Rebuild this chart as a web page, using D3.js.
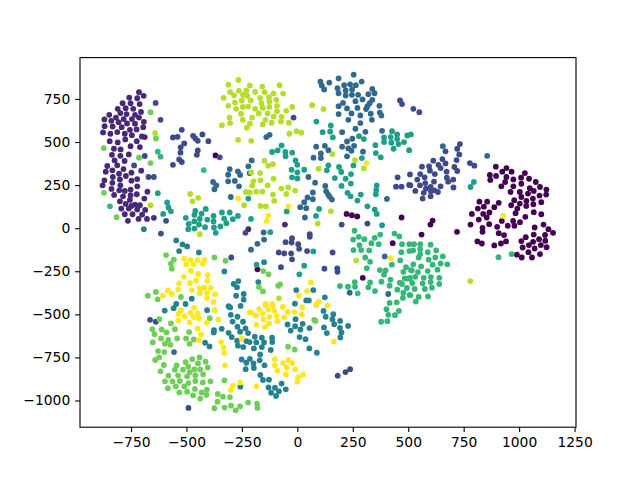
<!DOCTYPE html>
<html><head><meta charset="utf-8">
<script src="https://cdn.jsdelivr.net/npm/d3@7"></script>
<style>html,body{margin:0;padding:0;background:#fff}svg{display:block}</style>
</head><body><svg id="c" width="640" height="480"></svg>
<script>
const xTicks=[-750,-500,-250,0,250,500,750,1000,1250];
const yTicks=[-1000,-750,-500,-250,0,250,500,750];
const classColors=["#440154","#482878","#3e4a89","#31688e","#26828e","#1f9e89","#35b779","#6ece58","#b5de2b","#fde725"];
const class0=[[-369,422],[895,357],[943,349],[924,328],[966,328],[1026,320],[868,309],[896,303],[943,297],[1009,293],[1045,287],[974,283],[870,280],[1075,268],[937,268],[1010,258],[920,243],[974,243],[1048,232],[1094,239],[1123,224],[961,210],[1003,210],[1066,216],[1040,201],[1010,181],[1092,189],[1122,195],[1062,172],[978,162],[1033,158],[1003,143],[964,133],[1032,129],[1064,139],[1100,151],[992,114],[1066,93],[1100,81],[984,87],[1028,66],[973,42],[1004,35],[949,14],[979,14],[922,42],[901,8],[821,154],[856,154],[908,147],[814,114],[841,125],[888,122],[787,83],[838,83],[866,91],[854,62],[818,50],[781,21],[865,23],[835,2],[835,-21],[908,-29],[932,-40],[941,-77],[918,-89],[888,-100],[812,-77],[832,-89],[720,-21],[610,44],[600,21],[560,-37],[1070,4],[1110,21],[1132,-6],[1153,-27],[1066,-37],[1117,-39],[1030,-52],[1090,-64],[1010,-75],[1063,-79],[1118,-73],[1098,-98],[1044,-98],[1016,-112],[1070,-118],[1124,-110],[1042,-139],[1094,-150],[990,-154],[1012,-170],[1058,-170],[222,83],[246,75],[270,68],[470,62],[430,-87],[295,-288],[-180,-239]];
const class1=[[-714,789],[-693,768],[-758,758],[-722,754],[-788,725],[-752,725],[-711,720],[-810,693],[-774,696],[-740,693],[-705,675],[-848,658],[-798,668],[-770,662],[-732,658],[-870,631],[-839,623],[-818,642],[-783,633],[-746,633],[-714,642],[-806,615],[-768,608],[-732,606],[-692,617],[-869,592],[-833,590],[-792,586],[-695,586],[-755,571],[-725,573],[-876,556],[-843,548],[-812,558],[-778,548],[-746,540],[-701,532],[-688,529],[-846,505],[-810,498],[-776,515],[-724,505],[-752,476],[-710,471],[-827,461],[-797,457],[-836,426],[-798,420],[-760,428],[-824,393],[-779,390],[-857,361],[-812,365],[-834,336],[-784,343],[-864,328],[-804,316],[-748,322],[-704,334],[-832,297],[-773,303],[-870,278],[-800,283],[-748,276],[-722,285],[-834,263],[-798,249],[-878,249],[-722,243],[-838,228],[-803,220],[-778,216],[-752,224],[-676,212],[-724,197],[-826,193],[-786,185],[-752,191],[-690,172],[-800,156],[-755,164],[-774,141],[-732,137],[-710,133],[-748,129],[-794,114],[-760,114],[-722,108],[-686,106],[-700,79],[-778,81],[-743,81],[-716,54],[-678,54],[-647,60],[-764,43],[-221,-6],[-56,21]];
const class2=[[-639,727],[-617,629],[-521,571],[-561,527],[-540,530],[-470,536],[-460,521],[-449,507],[-428,544],[-401,505],[-510,492],[-526,469],[-527,438],[-449,451],[-453,426],[-533,399],[-521,384],[-561,368],[-688,419],[-736,364],[-671,297],[-647,297],[-350,411],[-17,642],[463,741],[472,720],[452,295],[508,312],[523,693],[550,673],[733,488],[721,461],[730,428],[668,446],[718,395],[654,401],[613,392],[668,376],[636,368],[646,349],[594,359],[562,357],[598,334],[708,355],[721,332],[778,378],[798,363],[620,314],[673,328],[554,314],[574,295],[674,293],[541,282],[616,270],[703,282],[680,270],[577,262],[510,249],[553,249],[646,243],[704,236],[532,216],[601,239],[580,230],[602,214],[634,210],[570,205],[565,172],[601,185],[618,220],[-53,-81],[-24,-58],[-26,-83],[4,-93],[8,-120],[56,-35],[56,-50],[200,21],[316,27],[-84,-141],[-59,-147],[-28,-147],[-24,-181],[44,-133],[159,-141],[-74,-226],[122,-235],[180,-233],[181,-253],[445,241],[470,241],[504,251],[-592,43],[-615,-31],[-298,-170],[-234,-27],[-664,-532],[-638,-543],[-491,-1043],[238,-818],[217,-835],[182,-856]];
const class3=[[-305,343],[-268,330],[-258,309],[-312,310],[-140,529],[-125,542],[254,891],[104,851],[144,845],[186,870],[110,828],[121,805],[211,830],[238,835],[264,830],[290,851],[181,812],[218,799],[247,805],[186,783],[218,770],[246,774],[274,774],[338,808],[320,778],[348,783],[294,747],[262,737],[206,727],[186,708],[224,695],[271,698],[338,745],[326,725],[316,708],[370,710],[310,691],[244,666],[186,662],[284,654],[331,664],[372,671],[230,629],[336,629],[379,654],[284,610],[202,557],[262,577],[307,559],[382,565],[248,519],[224,503],[202,473],[256,478],[230,463],[244,449],[296,444],[224,417],[85,473],[124,478],[140,453],[106,434],[106,407],[73,409],[-206,393],[-221,359],[-215,320],[50,297],[656,476],[856,420],[-380,268],[-365,249],[-374,226],[-300,181],[-263,243],[-312,272],[-282,274],[80,264],[70,207],[46,178],[70,168],[31,151],[13,122],[40,116],[34,62],[126,245],[130,214],[139,195],[146,182],[156,166],[404,170],[-152,-25],[-150,-66],[-180,-91],[-209,-125],[236,-374],[394,-164],[410,-382],[-556,-719]];
const class4=[[-692,-6],[-546,-71],[-518,-94],[-497,-106],[-533,-133],[-444,-141],[-329,-251],[-287,-324],[-266,-307],[-272,-343],[-276,-392],[-242,-382],[-242,-415],[-476,-409],[-546,-440],[-504,-440],[-150,-197],[-176,-313],[-5,-359],[72,-359],[40,-419],[52,-419],[124,-401],[-11,-438],[-558,-464],[-598,-478],[-407,-476],[-310,-453],[-303,-460],[-256,-451],[-300,-503],[-270,-514],[-292,-542],[-245,-543],[-270,-572],[-234,-582],[-376,-592],[-377,-605],[-341,-584],[-310,-607],[-258,-601],[-222,-609],[-296,-632],[-272,-653],[-230,-655],[-416,-665],[-396,-686],[-268,-682],[-244,-690],[-251,-762],[-230,-781],[-233,-818],[-257,-920],[118,-480],[162,-499],[128,-514],[158,-528],[193,-538],[-8,-528],[-44,-559],[-10,-569],[24,-555],[166,-557],[229,-567],[120,-576],[192,-578],[-30,-594],[14,-588],[55,-580],[199,-605],[133,-609],[194,-634],[10,-632],[37,-644],[54,-698],[88,-723],[-192,-630],[-160,-636],[-114,-636],[-113,-661],[-215,-661],[-185,-663],[-150,-663],[-196,-698],[-160,-690],[-120,-707],[-168,-733],[-214,-758],[-170,-767],[-198,-785],[-148,-796],[-196,-812],[-167,-852],[-155,-881],[-128,-879],[-71,-902],[-130,-924],[-101,-926],[-52,-935],[-83,-947],[-118,-955],[-96,-974]];
const class5=[[86,619],[151,596],[114,557],[148,561],[160,527],[-114,442],[-89,451],[-71,480],[-54,442],[-23,438],[-53,417],[-8,393],[0,368],[-26,339],[0,324],[31,339],[-24,295],[0,289],[140,365],[133,336],[188,355],[198,326],[169,291],[218,287],[242,314],[253,364],[291,407],[278,534],[300,517],[352,482],[354,436],[376,411],[391,527],[391,500],[427,563],[421,529],[424,496],[450,544],[450,517],[456,488],[434,461],[481,500],[504,453],[496,538],[512,544],[796,268],[781,239],[199,245],[241,259],[358,249],[356,222],[354,197],[226,205],[240,185],[286,195],[271,160],[316,127],[349,108],[358,83],[382,17],[98,112],[84,71],[-48,97],[-209,54],[-122,-23],[-221,172],[72,-135],[31,-218],[9,-268],[-184,-212],[-629,203],[-587,149],[-581,120],[-570,98],[-605,83],[-460,100],[-413,112],[-464,77],[-432,85],[-503,60],[-378,71],[-406,50],[-440,54],[-465,39],[-490,25],[-378,39],[-443,21],[-416,6],[-464,-2],[-492,-6],[-376,4],[-368,-27],[-347,10],[-320,29],[-330,56],[-340,91],[-305,91],[-291,52],[-268,71]];
const class6=[[-629,444],[-617,415],[-422,337],[-845,127],[907,-168],[966,-150],[526,-93],[554,-93],[601,-96],[554,-122],[522,-129],[588,-139],[626,-129],[554,-150],[547,-170],[622,-170],[656,-164],[592,-183],[646,-205],[676,-210],[523,-210],[610,-212],[558,-222],[632,-241],[516,-245],[544,-255],[588,-249],[532,-282],[508,-289],[570,-288],[602,-284],[640,-288],[601,-313],[565,-320],[640,-324],[518,-318],[607,-345],[529,-353],[575,-353],[510,-388],[589,-396],[547,-399],[534,-426],[258,-15],[277,-50],[252,-66],[302,-64],[349,-56],[374,-37],[334,-87],[367,-93],[280,-98],[253,-127],[288,-127],[324,-129],[306,-170],[328,-195],[313,-232],[438,-31],[460,-48],[472,-93],[505,-93],[469,-139],[505,-133],[464,-187],[426,-212],[490,-226],[512,-243],[372,-243],[398,-245],[391,-270],[420,-299],[379,-311],[462,-316],[472,-324],[494,-347],[451,-357],[478,-374],[506,-388],[416,-334],[328,-315],[259,-313],[192,-336],[228,-340],[260,-340],[320,-343],[350,-365],[272,-378],[416,-434],[448,-430],[476,-405],[484,-291],[499,-293],[478,-253],[402,-470],[458,-480],[410,-503],[440,-505],[378,-543],[406,-540]];
const class7=[[-662,673],[-873,465],[-638,521],[-714,409],[-662,378],[-872,205],[-815,64],[-592,-156],[-374,-170],[-324,-189],[-557,-183],[-570,-206],[-566,-235],[-638,-370],[-674,-392],[-630,-413],[-525,-399],[-154,-249],[-130,-268],[-173,-342],[-155,-367],[-86,-334],[-78,-326],[-622,-528],[-570,-553],[-654,-586],[-612,-588],[-552,-586],[-590,-605],[-644,-615],[-488,-603],[-395,-522],[-614,-640],[-542,-640],[-502,-640],[-467,-646],[-652,-663],[-582,-648],[-597,-671],[-572,-677],[-486,-671],[-628,-713],[-600,-719],[-623,-750],[-641,-765],[-474,-760],[-441,-750],[-414,-775],[-504,-777],[-448,-785],[-602,-794],[-544,-796],[-492,-804],[-404,-808],[-552,-821],[-516,-821],[-464,-819],[-438,-819],[-617,-831],[-485,-835],[-538,-854],[-497,-860],[-460,-854],[-425,-848],[-581,-856],[-597,-889],[-563,-889],[-530,-887],[-491,-899],[-460,-887],[-426,-895],[-392,-889],[-329,-883],[-548,-918],[-510,-918],[-584,-929],[-462,-933],[-408,-937],[-532,-953],[-497,-949],[-432,-953],[-470,-970],[-410,-968],[-438,-989],[-359,-962],[-335,-978],[-304,-980],[-360,-1007],[-374,-1045],[-328,-1041],[-299,-1030],[-258,-1034],[-278,-1057],[-222,-1012],[-42,-688],[-12,-704],[76,-532],[82,-538],[-182,-1018],[-180,-1043]];
const class8=[[-641,552],[-311,833],[-266,860],[-303,789],[-332,756],[-263,797],[-285,770],[-230,799],[-245,774],[-281,729],[-251,741],[-311,710],[-276,693],[-246,704],[-222,706],[-254,664],[-306,642],[-246,629],[-303,610],[-340,598],[-228,583],[-267,513],[-214,828],[-158,822],[-80,830],[-190,791],[-148,789],[-107,781],[-64,781],[-226,768],[-168,756],[-128,760],[-210,741],[-162,725],[-126,735],[-95,745],[-126,704],[-92,710],[-190,693],[-156,698],[-23,704],[-50,681],[-92,679],[-174,666],[-134,666],[-204,642],[-107,648],[-71,648],[-144,629],[-74,619],[-116,612],[-38,612],[-156,602],[-214,606],[-4,563],[18,554],[-36,548],[-208,507],[67,714],[118,691],[158,430],[-148,392],[-131,363],[-110,372],[-168,320],[260,395],[300,347],[96,345],[-107,287],[-208,324],[-166,278],[780,-307],[-198,272],[-204,247],[-134,249],[-41,236],[-72,230],[-232,210],[-214,207],[-185,212],[-158,212],[-110,195],[-50,199],[-10,218],[-104,158],[-166,129],[-142,127],[151,98],[92,27],[265,-187],[-483,199],[-447,176],[-473,156],[-662,133],[-440,-35],[-240,133],[-83,-407]];
const class9=[[312,378],[928,71],[-40,126],[-131,73],[-138,42],[421,-174],[61,-315],[44,-365],[7,-392],[-143,-440],[-113,-440],[98,-426],[86,-440],[-267,174],[-510,-177],[-482,-185],[-450,-185],[-419,-183],[-501,-210],[-468,-210],[-426,-206],[-480,-247],[-447,-266],[-405,-272],[-512,-282],[-456,-303],[-405,-305],[-533,-320],[-484,-318],[-537,-355],[-584,-361],[-566,-382],[-606,-392],[-476,-359],[-440,-349],[-420,-345],[-390,-347],[-407,-376],[-371,-384],[-440,-378],[-407,-407],[-378,-428],[-465,-462],[-372,-476],[-524,-476],[-536,-497],[-482,-491],[-449,-495],[-508,-511],[-468,-516],[-444,-522],[-536,-536],[-486,-547],[-408,-549],[-356,-530],[-450,-582],[-434,-615],[-443,-650],[-344,-661],[-332,-694],[-329,-725],[-326,-796],[-290,-914],[-300,-939],[-258,-895],[-251,-640],[-215,-489],[-143,-447],[-110,-449],[-172,-468],[-65,-457],[22,-459],[-131,-472],[-104,-478],[-206,-491],[-186,-507],[-158,-495],[-44,-486],[-14,-487],[20,-501],[-125,-516],[-94,-509],[-60,-518],[-152,-530],[-90,-540],[-128,-553],[-184,-561],[-146,-574],[85,-447],[136,-449],[164,-657],[-101,-760],[-64,-783],[-40,-765],[-23,-783],[-102,-796],[-48,-810],[-10,-818],[-90,-827],[-52,-848],[26,-850],[4,-866],[0,-891],[-184,-918]];
const classes=[class0,class1,class2,class3,class4,class5,class6,class7,class8,class9];

const svg=d3.select("#c");
const plotLeft=80,plotRight=576,plotTop=57.6,plotBottom=427.2;
const x=d3.scaleLinear().domain([-980,1256.5]).range([plotLeft,plotRight]);
const y=d3.scaleLinear().domain([-1155,990]).range([plotBottom,plotTop]);
const font="'DejaVu Sans'";

classes.forEach((pts,i)=>{
  svg.append("g").selectAll("circle").data(pts).join("circle")
    .attr("cx",d=>x(d[0])).attr("cy",d=>y(d[1])).attr("r",2.9).attr("fill",classColors[i]);
});

const fmt=d3.format("d");
const ax=svg.append("g").attr("transform",`translate(0,${plotBottom})`)
  .call(d3.axisBottom(x).tickValues(xTicks).tickFormat(fmt).tickSize(4.86).tickPadding(4.9));
const ay=svg.append("g").attr("transform",`translate(${plotLeft},0)`)
  .call(d3.axisLeft(y).tickValues(yTicks).tickFormat(fmt).tickSize(4.86).tickPadding(4.9));
[ax,ay].forEach(a=>{
  a.select(".domain").remove();
  a.selectAll("line").attr("stroke","#000").attr("stroke-width",1.1);
  a.selectAll("text").attr("fill","#000").style("font-family",font).style("font-size","13.89px");
});
svg.append("rect").attr("x",plotLeft).attr("y",plotTop).attr("width",plotRight-plotLeft).attr("height",plotBottom-plotTop)
  .attr("fill","none").attr("stroke","#000").attr("stroke-width",1.1);
</script></body></html>
